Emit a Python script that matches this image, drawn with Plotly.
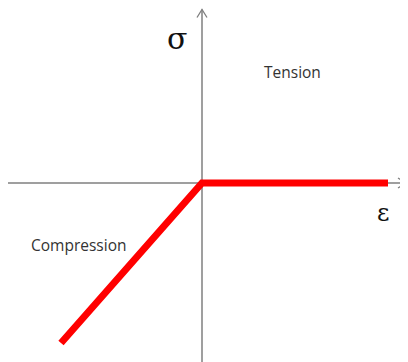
import plotly.graph_objects as go

# stress-strain curve (arbitrary units): linear in compression, zero in tension
strain = [-1.41, 0.0, 1.86]
stress = [-1.60, 0.0, 0.0]

labels = ["σ", "Tension", "ε", "Compression"]
label_x = [-0.25, 0.905, 1.81, -1.24]
label_y = [1.45, 1.11, -0.30, -0.615]

# page has an 8px body margin, so the figure is 8px smaller and the ranges start there
x_range = [-1.94, 2.06]
y_range = [-1.79, 1.75]

axis_col = "#7f7f7f"
x_axis_start, x_axis_end = -1.94, 2.04
y_axis_start, y_axis_end = -1.79, 1.735

fig = go.Figure()

# axes with open arrow heads
fig.add_trace(go.Scatter(x=[x_axis_start, x_axis_end], y=[0, 0], mode="lines",
                         line=dict(color=axis_col, width=1.5), hoverinfo="skip"))
fig.add_trace(go.Scatter(x=[0, 0], y=[y_axis_start, y_axis_end], mode="lines",
                         line=dict(color=axis_col, width=1.5), hoverinfo="skip"))
fig.add_trace(go.Scatter(x=[x_axis_end - 0.08, x_axis_end, x_axis_end - 0.08], y=[0.05, 0, -0.05],
                         mode="lines", line=dict(color=axis_col, width=1.3), hoverinfo="skip"))
fig.add_trace(go.Scatter(x=[-0.05, 0, 0.05], y=[y_axis_end - 0.08, y_axis_end, y_axis_end - 0.08],
                         mode="lines", line=dict(color=axis_col, width=1.3), hoverinfo="skip"))

fig.add_trace(go.Scatter(x=strain, y=stress, mode="lines",
                         line=dict(color="#ff0000", width=7)))

fonts = [dict(family="DejaVu Serif", size=30, color="#111111"),
         dict(family="Open Sans", size=15.5, color="#333333"),
         dict(family="DejaVu Serif", size=24, color="#111111"),
         dict(family="Open Sans", size=15.5, color="#333333")]
for t, x, y, f in zip(labels, label_x, label_y, fonts):
    fig.add_annotation(x=x, y=y, text=t, showarrow=False, font=f,
                       xanchor="center", yanchor="middle")

fig.update_xaxes(range=x_range, visible=False, fixedrange=True)
fig.update_yaxes(range=y_range, visible=False, fixedrange=True)
fig.update_layout(width=400, height=354, margin=dict(l=0, r=0, t=0, b=0),
                  plot_bgcolor="white", paper_bgcolor="white", showlegend=False)

fig.write_html("out.html")
